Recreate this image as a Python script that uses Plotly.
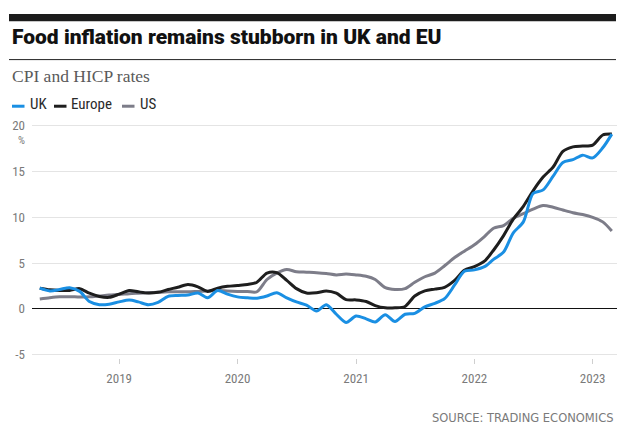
import plotly.graph_objects as go
import pandas as pd

# ---------------- data (monthly, May 2018 – Mar 2023) ----------------
start_month = "2018-05-01"
end_month = "2023-03-01"

uk = [2.25, 1.95, 2.1, 2.3, 1.9, 0.8, 0.45, 0.5, 0.75, 0.95, 0.75, 0.45,
      0.7, 1.35, 1.45, 1.5, 1.72, 1.2, 2.0, 1.6, 1.3, 1.2, 1.15, 1.4,
      1.75, 1.2, 0.75, 0.4, -0.25, 0.45, -0.6, -1.5, -0.8, -1.1, -1.45, -0.65,
      -1.4, -0.6, -0.5, 0.2, 0.6, 1.1, 2.6, 4.1, 4.25, 4.6, 5.4, 6.2,
      8.3, 9.5, 12.6, 13.0, 14.5, 16.0, 16.3, 16.8, 16.5, 17.6, 19.1]

europe = [2.25, 2.07, 2.0, 2.0, 2.2, 1.7, 1.35, 1.25, 1.6, 2.0, 1.85, 1.72,
          1.8, 2.1, 2.35, 2.65, 2.4, 1.9, 2.25, 2.45, 2.55, 2.65, 2.9, 3.9,
          3.95, 3.1, 2.2, 1.72, 1.75, 1.95, 1.7, 1.0, 0.97, 0.8, 0.35, 0.1,
          0.1, 0.25, 1.4, 1.95, 2.15, 2.35, 3.1, 4.2, 4.6, 5.2, 6.4, 8.0,
          9.8, 11.2, 12.9, 14.4, 15.5, 17.2, 17.7, 17.8, 17.9, 19.0, 19.1]

us = [1.07, 1.2, 1.3, 1.32, 1.28, 1.3, 1.4, 1.5, 1.55, 1.65, 1.7, 1.75,
      1.8, 1.85, 1.85, 1.85, 1.9, 1.95, 2.0, 1.95, 1.9, 1.88, 1.86, 3.2,
      3.9, 4.3, 4.05, 4.0, 3.95, 3.86, 3.7, 3.8, 3.7, 3.55, 3.2, 2.3,
      2.1, 2.2, 2.9, 3.5, 3.9, 4.7, 5.6, 6.3, 7.0, 7.9, 8.8, 9.1,
      9.9, 10.4, 10.9, 11.3, 11.1, 10.8, 10.5, 10.3, 10.0, 9.5, 8.5]

series_names = ["US", "Europe", "UK"]
series_colors = {"UK": "#1a8fe3", "Europe": "#1e1e1e", "US": "#7d7d89"}

y_tick_vals = [-5, 0, 5, 10, 15, 20]
y_tick_text = ["-5", "0", "5", "10", "15", "20"]
x_tick_vals = ["2019-01-01", "2020-01-01", "2021-01-01", "2022-01-01", "2023-01-01"]
x_tick_text = ["2019", "2020", "2021", "2022", "2023"]

title_text = "Food inflation remains stubborn in UK and EU"
subtitle_text = "CPI and HICP rates"
source_text = "SOURCE: TRADING ECONOMICS"

# ---------------- figure ----------------
# the page body has an 8px margin, so the figure is drawn 8px in from the corner
OFF = 8
W, H = 641 - OFF, 438 - OFF
def px(x):
    return (x - OFF) / W
def py(y):
    return 1 - (y - OFF) / H

dates = pd.date_range(start_month, end_month, freq="MS")
values = {"UK": uk, "Europe": europe, "US": us}

COND = "Liberation Sans Narrow, Roboto Condensed, Roboto, sans-serif"

fig = go.Figure()
for name in series_names:
    fig.add_trace(go.Scatter(
        x=dates, y=values[name], mode="lines", name=name,
        line=dict(color=series_colors[name], width=3, shape="spline", smoothing=0.8),
        showlegend=False, hoverinfo="skip"))

fig.update_layout(
    width=W, height=H,
    margin=dict(l=0, r=0, t=0, b=0),
    paper_bgcolor="white", plot_bgcolor="white",
    xaxis=dict(
        domain=[px(32), px(617)],
        range=["2018-04-07", "2023-03-17"],
        tickvals=x_tick_vals, ticktext=x_tick_text,
        ticks="outside", ticklen=5, tickcolor="#cfcfcf", tickwidth=1,
        ticklabelstandoff=3,
        showgrid=False, zeroline=False, showline=False,
        tickfont=dict(family=COND, size=13, color="#7a7a7a"),
    ),
    yaxis=dict(
        domain=[py(360.7), py(120.3)],
        range=[-5.4, 20.4],
        tickvals=y_tick_vals, ticktext=y_tick_text,
        showgrid=True, gridcolor="#e4e4e4", gridwidth=1,
        zeroline=True, zerolinecolor="#111111", zerolinewidth=1,
        showline=False, ticks="", ticklabelstandoff=6,
        tickfont=dict(family=COND, size=13, color="#7a7a7a"),
    ),
)

shapes = [
    # top black bar
    dict(type="rect", xref="paper", yref="paper", x0=px(9), x1=px(616), y0=py(17.5), y1=py(10),
         fillcolor="#1c1c1c", line=dict(width=0)),
    # thin rule under title
    dict(type="line", xref="paper", yref="paper", x0=px(9), x1=px(616), y0=py(56.5), y1=py(56.5),
         line=dict(color="#222222", width=1)),
]
# legend swatches
legend_items = [("UK", 12, 28), ("Europe", 54, 69), ("US", 122, 138)]
for name, sx, tx in legend_items:
    shapes.append(dict(type="line", xref="paper", yref="paper", x0=px(sx), x1=px(sx + 12.5),
                       y0=py(104), y1=py(104), line=dict(color=series_colors[name], width=3)))
fig.update_layout(shapes=shapes)

annotations = [
    dict(text=title_text, x=px(10), y=py(33), xref="paper", yref="paper",
         xanchor="left", yanchor="middle", showarrow=False,
         font=dict(family="Roboto, Inter, sans-serif", size=21, color="#111111", weight=900)),
    dict(text=subtitle_text, x=px(10), y=py(73), xref="paper", yref="paper",
         xanchor="left", yanchor="middle", showarrow=False,
         font=dict(family="Liberation Serif, DejaVu Serif, serif", size=17.5, color="#5a5a5a")),
    dict(text="%", x=px(21), y=py(139), xref="paper", yref="paper",
         xanchor="center", yanchor="middle", showarrow=False,
         font=dict(family=COND, size=11, color="#7a7a7a")),
    dict(text=source_text, x=px(616), y=py(422), xref="paper", yref="paper",
         xanchor="right", yanchor="middle", showarrow=False,
         font=dict(family="DejaVu Sans, sans-serif", size=11.5, color="#7a7a7a")),
]
for name, sx, tx in legend_items:
    annotations.append(dict(text=name, x=px(tx), y=py(102), xref="paper", yref="paper",
                            xanchor="left", yanchor="middle", showarrow=False,
                            font=dict(family=COND, size=15, color="#2a2a2a")))
fig.update_layout(annotations=annotations)

fig.write_html("out.html")
